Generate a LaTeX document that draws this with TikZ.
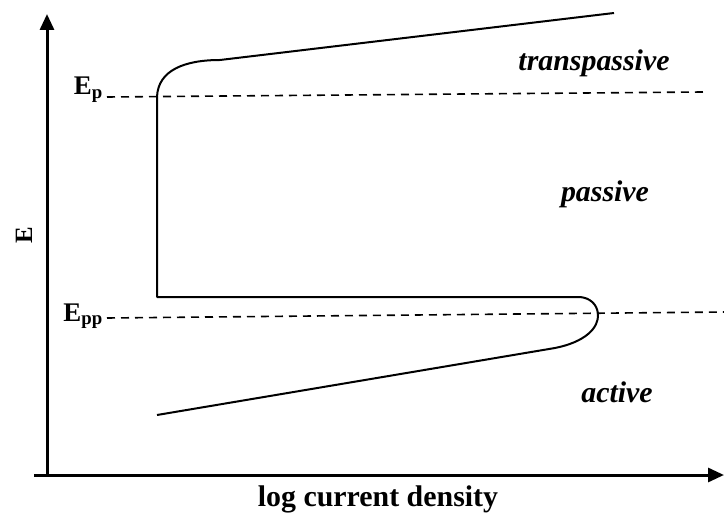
\documentclass[tikz,border=0pt]{standalone}
\usepackage{fontspec}
\setmainfont{Liberation Serif}
\usetikzlibrary{arrows.meta}

\begin{document}
\begin{tikzpicture}[
    x=1bp, y=-1bp,
    axis/.style={line width=3bp,-{Triangle[length=16bp,width=14bp]}},
    curve/.style={line width=2bp,line join=round},
    level/.style={dashed,line width=1.6bp,dash pattern=on 8bp off 6bp},
    region/.style={font=\fontsize{30}{34}\selectfont\bfseries\itshape,inner sep=0pt,anchor=base},
    potential/.style={font=\fontsize{27}{30}\selectfont\bfseries,inner sep=0pt,anchor=base east}
  ]
    \useasboundingbox (0,0) rectangle (724,515);

    % axes
    \coordinate (origin) at (47,475);
    \coordinate (ytip) at (47,14);
    \coordinate (xtip) at (724,475);
    \coordinate (xstart) at (34,475);
    \draw[axis] (origin) -- (ytip);
    \draw[axis] (xstart) -- (xtip);
    \node[font=\fontsize{30}{34}\selectfont\bfseries,anchor=base] (xlabel) at (378,506) {log current density};
    \node[font=\fontsize{25}{28}\selectfont\bfseries,rotate=90,anchor=base] (ylabel) at (32,235) {E};

    % potential levels
    \node[potential] (Ep) at (103,95) {E\textsubscript{p}};
    \node[potential] (Epp) at (103,321) {E\textsubscript{pp}};
    \coordinate (EpEnd) at (703,92);
    \coordinate (EppEnd) at (724,312);
    \draw[level] (Ep.base east) ++(4,2) -- (EpEnd);
    \draw[level] (Epp.base east) ++(4,-3) -- (EppEnd);

    % polarisation curve
    \coordinate (actStart) at (157,415);
    \coordinate (actEnd) at (555,348);
    \coordinate (nose) at (598,314);
    \coordinate (passEnd) at (580,297);
    \coordinate (passStart) at (157,297);
    \coordinate (Epoint) at (157,97);
    \coordinate (knee) at (220,60);
    \coordinate (trEnd) at (614,13);
    \draw[curve] (actStart) -- (actEnd)
      .. controls (585,342) and (599,328) .. (nose)
      .. controls (597,304) and (590,298) .. (passEnd)
      -- (passStart) -- (Epoint)
      .. controls (158,70) and (185,60) .. (knee) -- (trEnd);

    % regions
    \node[region] (trans) at (594,71) {transpassive};
    \node[region] (pass) at (605,202) {passive};
    \node[region] (act) at (617,402) {active};
  \end{tikzpicture}
\end{document}
